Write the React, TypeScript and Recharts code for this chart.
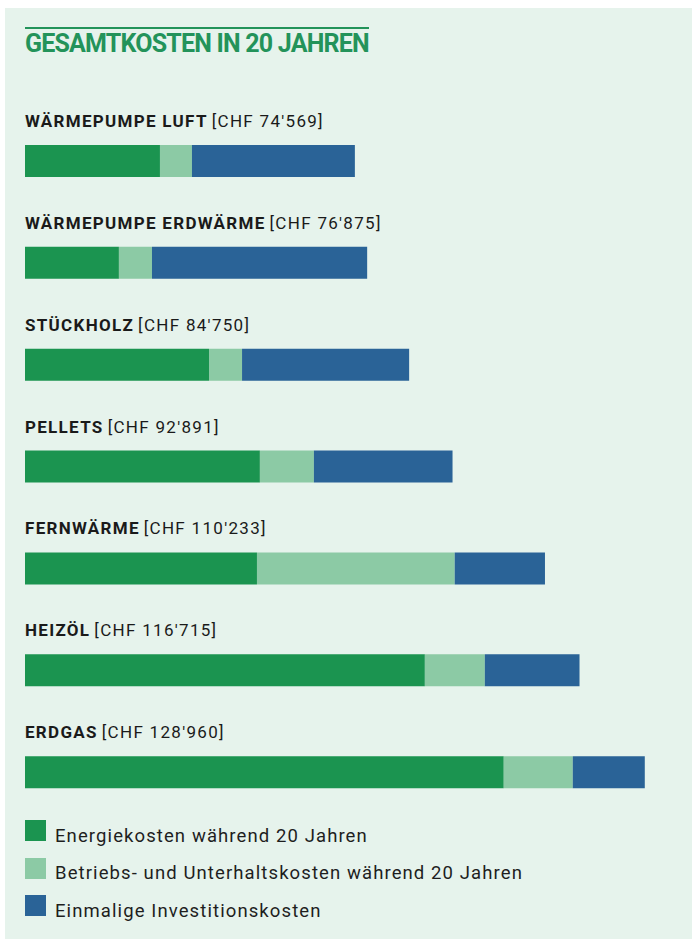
import { Bar, BarChart, XAxis, YAxis } from "recharts";

const systems = [
  "WÄRMEPUMPE LUFT",
  "WÄRMEPUMPE ERDWÄRME",
  "STÜCKHOLZ",
  "PELLETS",
  "FERNWÄRME",
  "HEIZÖL",
  "ERDGAS",
];
const totals = [74569, 76875, 84750, 92891, 110233, 116715, 128960];
// Energiekosten / Betriebs- und Unterhaltskosten (CHF)
const energy = [38000, 30300, 47200, 56750, 56200, 87700, 102500];
const operation = [6000, 6200, 6200, 10130, 37100, 11250, 12950];
// Investition = rest of the total
const investment = totals.map((t, i) => t - energy[i] - operation[i]);

const seriesNames = [
  "Energiekosten während 20 Jahren",
  "Betriebs- und Unterhaltskosten während 20 Jahren",
  "Einmalige Investitionskosten",
];
const seriesColors = ["#1b9450", "#8ccaa5", "#2a6397"];

const data = systems.map((name, i) => ({
  name,
  total: totals[i],
  energy: energy[i],
  operation: operation[i],
  investment: investment[i],
}));

const FONT = "Roboto, sans-serif";

function chf(v: number) {
  return String(v).replace(/\B(?=(\d{3})+(?!\d))/g, "'");
}

function SystemTick(props: any) {
  const { y, payload } = props;
  const row = data.find((d) => d.name === payload.value);
  return (
    <text
      x={25}
      y={y - 34}
      fontFamily={FONT}
      fontSize={17}
      letterSpacing={1.3}
      fill="#1a1a1a"
    >
      <tspan fontWeight={700}>{payload.value}</tspan>
      <tspan fontWeight={400} dx={4}>
        [CHF {chf(row ? row.total : 0)}]
      </tspan>
    </text>
  );
}

function LegendBox() {
  return (
    <div
      style={{
        fontFamily: FONT,
        fontSize: 18.5,
        letterSpacing: 1.1,
        color: "#1e1e1e",
      }}
    >
      {seriesNames.map((n, i) => (
        <div
          key={n}
          style={{ display: "flex", alignItems: "center", height: 37.5 }}
        >
          <span
            style={{
              width: 21,
              height: 21,
              background: seriesColors[i],
              marginRight: 9,
              display: "inline-block",
            }}
          />
          <span style={{ position: "relative", top: 5 }}>{n}</span>
        </div>
      ))}
    </div>
  );
}

export default function App() {
  return (
    <div
      style={{
        position: "absolute",
        left: 0,
        top: 0,
        width: 692,
        height: 939,
        background: "#ffffff",
      }}
    >
      <div
        style={{
          position: "absolute",
          left: 5,
          top: 8,
          width: 687,
          height: 931,
          background: "#e6f3ec",
        }}
      />
      <div
        style={{
          position: "absolute",
          left: 25,
          top: 27,
          width: 344,
          height: 2,
          background: "#23935a",
        }}
      />
      <div
        style={{
          position: "absolute",
          left: 25,
          top: 29,
          fontFamily: FONT,
          fontSize: 25,
          fontWeight: 700,
          letterSpacing: -0.8,
          color: "#23935a",
          whiteSpace: "nowrap",
        }}
      >
        GESAMTKOSTEN IN 20 JAHREN
      </div>
      <div style={{ position: "absolute", left: 0, top: 0 }}>
        <BarChart
          width={692}
          height={939}
          layout="vertical"
          data={data}
          margin={{ top: 110, right: 47, bottom: 116, left: 24 }}
          barSize={32}
        >
          <XAxis
            type="number"
            hide
            domain={[12680, 129000]}
            allowDataOverflow
          />
          <YAxis
            type="category"
            dataKey="name"
            width={1}
            axisLine={false}
            tickLine={false}
            tick={<SystemTick />}
            interval={0}
          />
          <Bar
            dataKey="energy"
            stackId="a"
            fill={seriesColors[0]}
            name={seriesNames[0]}
            isAnimationActive={false}
          />
          <Bar
            dataKey="operation"
            stackId="a"
            fill={seriesColors[1]}
            name={seriesNames[1]}
            isAnimationActive={false}
          />
          <Bar
            dataKey="investment"
            stackId="a"
            fill={seriesColors[2]}
            name={seriesNames[2]}
            isAnimationActive={false}
          />
        </BarChart>
      </div>
      <div style={{ position: "absolute", left: 25, top: 812 }}>
        <LegendBox />
      </div>
    </div>
  );
}
